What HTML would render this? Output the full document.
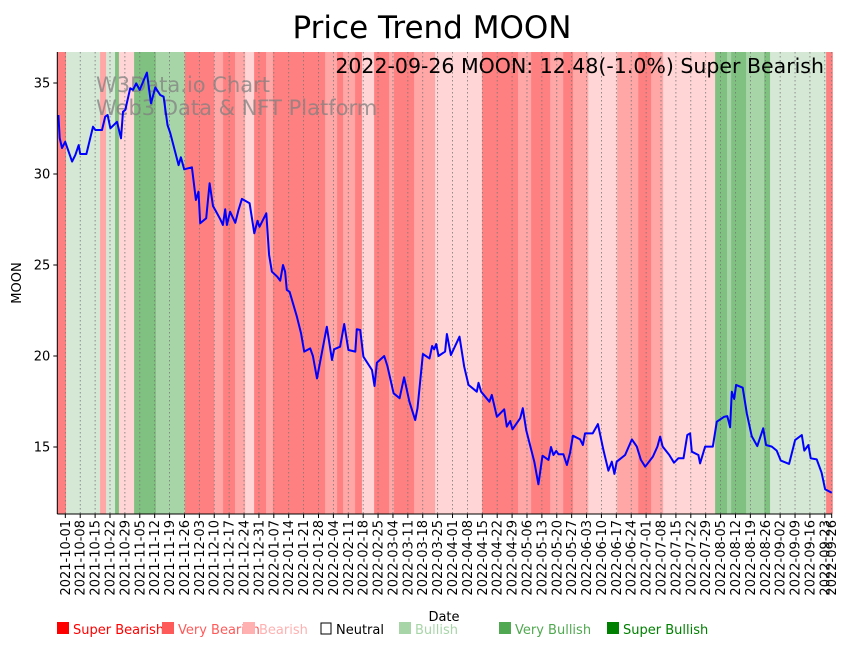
<!DOCTYPE html>
<html><head><meta charset="utf-8"><style>
html,body{margin:0;padding:0;background:#fff;}
svg{display:block;font-family:"DejaVu Sans","Liberation Sans",sans-serif;}
</style></head><body>
<svg id="chart" width="851" height="646" viewBox="0 0 851 646">
<rect width="851" height="646" fill="#fff"/>
<g id="bands"></g>
<g id="grid"></g>
<text x="96" y="92" font-size="21" fill="#808080" fill-opacity="0.75">W3Data.io Chart</text>
<text x="96" y="115" font-size="21" fill="#808080" fill-opacity="0.75">Web3 Data &amp; NFT Platform</text>
<path id="line" fill="none" stroke="#0000ff" stroke-width="2" stroke-linejoin="round"/>
<line x1="57.3" y1="52" x2="57.3" y2="514" stroke="#000" stroke-width="1"/>
<line x1="57.3" y1="514" x2="832" y2="514" stroke="#000" stroke-width="1"/>
<g id="yticks"></g>
<g id="xticks"></g>
<text x="432" y="38" font-size="31" text-anchor="middle" fill="#000">Price Trend MOON</text>
<text x="824" y="73" font-size="20.5" text-anchor="end" fill="#000">2022-09-26 MOON: 12.48(-1.0%) Super Bearish</text>
<text x="21" y="283" font-size="13" text-anchor="middle" transform="rotate(-90 21 283)">MOON</text>
<text x="444" y="621" font-size="13" text-anchor="middle">Date</text>
<g id="legend"></g>
</svg>
<script>
const bandStarts=[0,4.1,20.0,22.8,27.0,28.8,35.9,46.1,59.7,73.3,77.5,83.1,87.8,92.0,97.6,100.8,125.2,130.8,133.6,139.2,142.4,148.1,155.1,157.4,166.8,176.6,198.6,215.4,221.5,230.4,236.5,241.1,248.2,261.7,271.6,277.6,283.2,307.5,313.1,315.0,322.0,330.4,333.2,359.4];
const bandCats=[0,4,1,4,6,2,6,5,0,1,0,1,2,0,1,0,1,0,1,0,2,0,1,0,1,2,0,1,0,1,0,1,2,1,0,1,2,6,5,6,5,6,4,0];
const priceDays=[0.5,1.1,2.2,3.7,6.9,8.4,10.0,10.7,13.6,16.7,17.8,20.9,22.4,23.5,24.8,27.9,29.8,30.7,31.8,34.1,35.4,36.9,38.5,41.9,43.8,45.8,48.1,49.7,51.5,52.8,56.7,57.8,59.3,62.9,64.8,66.0,66.8,69.6,71.2,72.8,74.3,76.2,77.4,78.5,79.3,80.8,83.2,84.7,86.3,89.9,92.1,93.6,94.5,97.7,99.0,100.3,102.8,104.2,105.5,106.5,107.3,108.6,112.0,113.9,115.4,118.2,119.5,121.4,126.0,128.4,129.4,132.2,134.1,136.1,139.3,140.0,141.6,143.1,147.1,148.3,149.4,152.8,154.3,157.2,160.0,162.1,164.6,167.3,168.4,170.9,174.0,175.2,176.2,177.1,178.2,181.3,182.1,184.0,188.0,190.2,192.2,196.1,196.9,198.1,202.0,203.1,205.5,208.9,210.1,211.7,212.8,216.4,217.6,219.2,223.0,224.9,226.8,229.6,230.8,231.9,233.2,234.3,236.6,238.2,239.7,241.0,244.4,245.7,246.7,250.3,252.7,255.3,257.6,259.2,260.4,261.5,265.4,268.6,270.9,272.8,274.8,278.4,280.5,281.8,283.0,286.1,288.3,290.3,292.7,294.5,295.8,296.6,299.7,300.5,302.8,306.4,308.3,311.7,313.2,314.5,315.3,316.4,317.3,320.4,322.3,324.6,327.2,330.0,331.3,334.0,336.3,338.2,342.1,344.9,348.0,349.2,351.1,352.2,355.0,357.3,358.9,362.0];
const prices=[33.24,31.98,31.43,31.77,30.68,31.04,31.59,31.10,31.10,32.60,32.42,32.42,33.15,33.24,32.51,32.87,31.96,33.42,33.52,34.71,34.62,34.98,34.62,35.57,33.88,34.76,34.34,34.25,32.69,32.24,30.49,30.92,30.26,30.37,28.57,29.03,27.29,27.57,29.49,28.24,27.93,27.51,27.20,28.06,27.20,27.93,27.32,28.02,28.63,28.39,26.74,27.43,27.10,27.84,25.55,24.63,24.36,24.14,25.00,24.63,23.63,23.53,22.16,21.26,20.24,20.42,20.00,18.77,21.61,19.78,20.37,20.51,21.76,20.33,20.24,21.47,21.43,19.96,19.23,18.35,19.63,20.00,19.45,17.95,17.68,18.83,17.49,16.48,17.13,20.11,19.87,20.55,20.37,20.66,20.00,20.24,21.21,20.05,21.06,19.41,18.41,18.04,18.53,18.04,17.49,17.86,16.66,17.07,16.12,16.43,15.97,16.58,17.13,15.93,14.19,12.95,14.52,14.29,15.00,14.56,14.78,14.60,14.60,14.01,14.69,15.62,15.42,15.11,15.75,15.75,16.26,14.84,13.70,14.19,13.52,14.19,14.56,15.42,15.02,14.29,13.92,14.47,15.02,15.57,15.02,14.56,14.14,14.38,14.38,15.66,15.75,14.74,14.56,14.10,15.02,15.02,16.39,16.66,16.70,16.08,18.04,17.64,18.41,18.26,16.85,15.60,15.05,16.03,15.11,15.02,14.80,14.25,14.07,15.38,15.66,14.80,15.11,14.38,14.32,13.59,12.68,12.49];
const yTickValues=[15,20,25,30,35];
const catColors=['#ff8080','#ffa6a6','#ffd5d5','#ffffff','#d5e8d5','#a8d5a8','#80c080'];
const legendLabels=['Super Bearish','Very Bearish','Bearish','Neutral','Bullish','Very Bullish','Super Bullish'];
const legendColors=['#ff0000','#ff5a5a','#ffb0b0','#000000','#a8d5a8','#50a850','#008000'];
const legendTextColors=['#ff0000','#ff5a5a','#ffb0b0','#000000','#a8d5a8','#50a850','#008000'];

const NS='http://www.w3.org/2000/svg';
const X0=57.3,X1=831.7,D0=0,D1=362,PT=52,PB=514;
function xs(d){return X0+(d-D0)*(X1-X0)/(D1-D0);}
function ys(v){return 447-(v-15)*18.2;}
function mk(tag,attrs,parent){const e=document.createElementNS(NS,tag);for(const k in attrs)e.setAttribute(k,attrs[k]);parent.appendChild(e);return e;}

const bands=document.getElementById('bands');
for(let i=0;i<bandStarts.length;i++){
  const a=xs(bandStarts[i]);const b=i+1<bandStarts.length?xs(bandStarts[i+1]):832.5;
  const r=mk('rect',{x:a,y:PT,width:Math.max(0,b-a)+0.3,height:PB-PT,fill:catColors[bandCats[i]]},bands);
  
  
}

const start=new Date(Date.UTC(2021,9,1));
const grid=document.getElementById('grid'),xt=document.getElementById('xticks');
const tickDates=[];
for(let k=0;k<=51;k++){tickDates.push({d:3.75+k*7*0.9945,t:new Date(start.getTime()+k*7*86400000)});}
tickDates.push({d:362,t:new Date(Date.UTC(2022,8,26))});
tickDates.forEach(o=>{
  const x=xs(o.d);
  const g=mk('line',{x1:x,y1:PT,x2:x,y2:PB,stroke:'#777','stroke-width':0.8,'stroke-dasharray':'1.5,2.5'},grid);
  
  
  const tk=mk('line',{x1:x,y1:PB,x2:x,y2:PB+4,stroke:'#000','stroke-width':1},xt);
  
  
  const s=o.t.toISOString().slice(0,10);
  const tx=mk('text',{x:x+4.5,y:PB+6,'font-size':13,'text-anchor':'end',transform:`rotate(-90 ${x+4.5} ${PB+6})`},xt);
  tx.textContent=s;
  
  
});

const yt=document.getElementById('yticks');
yTickValues.forEach(v=>{
  const y=ys(v);
  const l=mk('line',{x1:X0-4,y1:y,x2:X0,y2:y,stroke:'#000'},yt);
  
  
  const t=mk('text',{x:X0-7,y:y+4.5,'font-size':13,'text-anchor':'end'},yt);
  t.textContent=v;
  
  
});

let dstr='';
priceDays.forEach((d,i)=>{dstr+=(i?'L':'M')+xs(d).toFixed(1)+','+ys(prices[i]).toFixed(1);});
document.getElementById('line').setAttribute('d',dstr);

const lg=document.getElementById('legend');
const legX=[57,162,243,320,399,499,607];
legendLabels.forEach((lab,i)=>{
  const g=mk('g',{},lg);
  
  
  if(i===3){mk('rect',{x:legX[i]+1,y:623,width:10,height:11,fill:'#fff',stroke:'#000','stroke-width':1},g);}
  else{mk('rect',{x:legX[i],y:622,width:12,height:12,fill:legendColors[i]},g);}
  const t=mk('text',{x:legX[i]+16,y:634,'font-size':13,fill:legendTextColors[i]},g);
  t.textContent=lab;
});
</script>
</body></html>
